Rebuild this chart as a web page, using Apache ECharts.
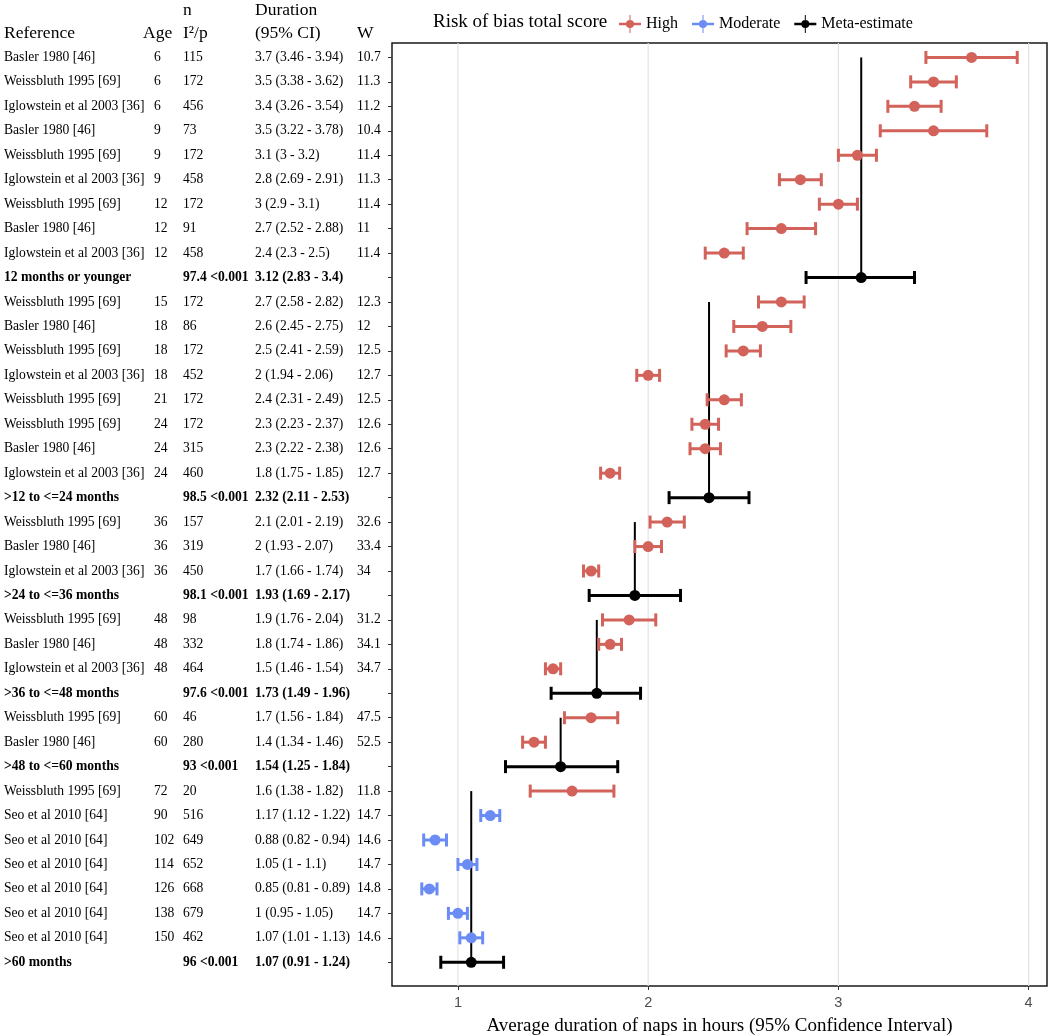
<!DOCTYPE html>
<html><head><meta charset="utf-8">
<script src="https://cdn.jsdelivr.net/npm/echarts@6/dist/echarts.min.js"></script>
<style>html,body{margin:0;padding:0;background:#fff}#c{width:1050px;height:1036px}</style>
</head><body><div id="c"></div><script>
// ---- data (top to bottom) ----
const references = [
 'Basler 1980 [46]','Weissbluth 1995 [69]','Iglowstein et al 2003 [36]',
 'Basler 1980 [46]','Weissbluth 1995 [69]','Iglowstein et al 2003 [36]',
 'Weissbluth 1995 [69]','Basler 1980 [46]','Iglowstein et al 2003 [36]',
 '12 months or younger',
 'Weissbluth 1995 [69]','Basler 1980 [46]','Weissbluth 1995 [69]','Iglowstein et al 2003 [36]',
 'Weissbluth 1995 [69]','Weissbluth 1995 [69]','Basler 1980 [46]','Iglowstein et al 2003 [36]',
 '>12 to <=24 months',
 'Weissbluth 1995 [69]','Basler 1980 [46]','Iglowstein et al 2003 [36]',
 '>24 to <=36 months',
 'Weissbluth 1995 [69]','Basler 1980 [46]','Iglowstein et al 2003 [36]',
 '>36 to <=48 months',
 'Weissbluth 1995 [69]','Basler 1980 [46]',
 '>48 to <=60 months',
 'Weissbluth 1995 [69]','Seo et al 2010 [64]','Seo et al 2010 [64]','Seo et al 2010 [64]',
 'Seo et al 2010 [64]','Seo et al 2010 [64]','Seo et al 2010 [64]',
 '>60 months'
];
const ages = ['6','6','6','9','9','9','12','12','12','',
 '15','18','18','18','21','24','24','24','',
 '36','36','36','','48','48','48','','60','60','',
 '72','90','102','114','126','138','150',''];
const nOrI2p = ['115','172','456','73','172','458','172','91','458','97.4 <0.001',
 '172','86','172','452','172','172','315','460','98.5 <0.001',
 '157','319','450','98.1 <0.001','98','332','464','97.6 <0.001',
 '46','280','93 <0.001',
 '20','516','649','652','668','679','462','96 <0.001'];
const estimates = [3.7,3.5,3.4,3.5,3.1,2.8,3,2.7,2.4,3.12,
 2.7,2.6,2.5,2,2.4,2.3,2.3,1.8,2.32,
 2.1,2,1.7,1.93,1.9,1.8,1.5,1.73,1.7,1.4,1.54,
 1.6,1.17,0.88,1.05,0.85,1,1.07,1.07];
const lower = [3.46,3.38,3.26,3.22,3,2.69,2.9,2.52,2.3,2.83,
 2.58,2.45,2.41,1.94,2.31,2.23,2.22,1.75,2.11,
 2.01,1.93,1.66,1.69,1.76,1.74,1.46,1.49,1.56,1.34,1.25,
 1.38,1.12,0.82,1,0.81,0.95,1.01,0.91];
const upper = [3.94,3.62,3.54,3.78,3.2,2.91,3.1,2.88,2.5,3.4,
 2.82,2.75,2.59,2.06,2.49,2.37,2.38,1.85,2.53,
 2.19,2.07,1.74,2.17,2.04,1.86,1.54,1.96,1.84,1.46,1.84,
 1.82,1.22,0.94,1.1,0.89,1.05,1.13,1.24];
const weights = ['10.7','11.3','11.2','10.4','11.4','11.3','11.4','11','11.4','',
 '12.3','12','12.5','12.7','12.5','12.6','12.6','12.7','',
 '32.6','33.4','34','','31.2','34.1','34.7','','47.5','52.5','',
 '11.8','14.7','14.6','14.7','14.8','14.7','14.6',''];
const riskOfBias = ['High','High','High','High','High','High','High','High','High','Meta-estimate',
 'High','High','High','High','High','High','High','High','Meta-estimate',
 'High','High','High','Meta-estimate','High','High','High','Meta-estimate',
 'High','High','Meta-estimate',
 'High','Moderate','Moderate','Moderate','Moderate','Moderate','Moderate','Meta-estimate'];
const xTicks = [1,2,3,4];

const COLORS = {'High':'#D2625A','Moderate':'#6B8CF5','Meta-estimate':'#000000'};
const SERIF = '"Liberation Serif","Times New Roman",serif';

// build series data
const seriesData = {'High':[],'Moderate':[],'Meta-estimate':[]};
let groupStart = 1;
references.forEach((r,i)=>{
  const row = i+1;
  const t = riskOfBias[i];
  if (t === 'Meta-estimate') {
    seriesData[t].push([row, estimates[i], lower[i], upper[i], groupStart]);
    groupStart = row + 1;
  } else {
    seriesData[t].push([row, estimates[i], lower[i], upper[i]]);
  }
});
const rowTicks = references.map((_,i)=>i+1);

function makeRender(color, isMeta){
  return function(params, api){
    const y = api.value(0);
    const c = api.coord([api.value(1), y]);
    const l = api.coord([api.value(2), y]);
    const h = api.coord([api.value(3), y]);
    const cap = 6.5;
    const lw = 3;
    const ch = [];
    if (isMeta) {
      const s = api.coord([api.value(1), api.value(4)]);
      ch.push({type:'line', shape:{x1:c[0],y1:s[1],x2:c[0],y2:c[1]}, style:{stroke:color,lineWidth:2}});
    }
    ch.push({type:'line', shape:{x1:l[0],y1:l[1],x2:h[0],y2:h[1]}, style:{stroke:color,lineWidth:lw}});
    ch.push({type:'line', shape:{x1:l[0],y1:l[1]-cap,x2:l[0],y2:l[1]+cap}, style:{stroke:color,lineWidth:lw}});
    ch.push({type:'line', shape:{x1:h[0],y1:h[1]-cap,x2:h[0],y2:h[1]+cap}, style:{stroke:color,lineWidth:lw}});
    ch.push({type:'circle', shape:{cx:c[0],cy:c[1],r:5.5}, style:{fill:color}});
    return {type:'group', children:ch};
  };
}

const legendIcon = 'path://M0,8.8H22V11.2H0Z M10.5,1H11.5V19H10.5Z M11,6A4,4 0 1,1 10.99,6Z';

const chart = echarts.init(document.getElementById('c'), null, {renderer:'canvas'});
const xmin = 0.6535, xmax = 4.0965;
chart.setOption({
  animation:false,
  backgroundColor:'#ffffff',
  title:{text:'Risk of bias total score', left:428, top:8,
    textStyle:{fontFamily:SERIF, fontSize:19, fontWeight:'normal', color:'#000'}},
  legend:{
    data:['High','Moderate','Meta-estimate'],
    left:614, top:10, icon:legendIcon, itemWidth:22, itemHeight:20, itemGap:14,
    textStyle:{fontFamily:SERIF, fontSize:16, color:'#000'},
    selectedMode:false
  },
  grid:{left:392, top:43, width:655, height:943, show:true, borderColor:'#1a1a1a', borderWidth:1.5,
    containLabel:false, outerBoundsMode:'none'},
  xAxis:{type:'value', min:xmin, max:xmax,
    axisLine:{show:false}, splitLine:{show:false},
    axisTick:{show:true, length:4, customValues:xTicks, lineStyle:{color:'#333'}},
    axisLabel:{customValues:xTicks, fontFamily:'"Liberation Sans",Arial,sans-serif', fontSize:14.5, color:'#4d4d4d', margin:9},
    name:'Average duration of naps in hours (95% Confidence Interval)', nameLocation:'middle', nameGap:31,
    nameTextStyle:{fontFamily:SERIF, fontSize:19, color:'#000'}
  },
  yAxis:{type:'value', inverse:true, min:0.41, max:38.97,
    axisLine:{show:false}, splitLine:{show:false},
    axisTick:{show:true, length:4, customValues:rowTicks, lineStyle:{color:'#333'}},
    axisLabel:{show:false}
  },
  series:[
    {name:'grid', type:'custom', z:1, silent:true, data:xTicks.map(v=>[v]),
      encode:{x:0},
      renderItem:function(p, api){
        const a = api.coord([api.value(0), 0.41]);
        const b = api.coord([api.value(0), 38.97]);
        return {type:'line', shape:{x1:a[0],y1:a[1],x2:b[0],y2:b[1]}, style:{stroke:'#e3e3e3', lineWidth:1.2}};
      }},
    {name:'High', type:'custom', z:3, itemStyle:{color:COLORS['High']}, data:seriesData['High'],
      encode:{x:[1,2,3], y:0}, renderItem:makeRender(COLORS['High'], false)},
    {name:'Moderate', type:'custom', z:3, itemStyle:{color:COLORS['Moderate']}, data:seriesData['Moderate'],
      encode:{x:[1,2,3], y:0}, renderItem:makeRender(COLORS['Moderate'], false)},
    {name:'Meta-estimate', type:'custom', z:2, itemStyle:{color:COLORS['Meta-estimate']}, data:seriesData['Meta-estimate'],
      encode:{x:[1,2,3], y:[0,4]}, renderItem:makeRender(COLORS['Meta-estimate'], true)}
  ]
});

// ---- left table as text ----
const BODY = 13.6, HEAD = 17.5;
const cols = {ref:4, age:154, n:183, dur:255, w:357};
const g = [];
function txt(s, x, y, size, bold){
  g.push({type:'text', x:x, y:y, silent:true,
    style:{text:s, font:(bold?'bold ':'')+size+'px '+SERIF, fill:'#000', textVerticalAlign:'middle', textAlign:'left'}});
}
txt('n', cols.n, 10, HEAD); txt('Duration', cols.dur, 10, HEAD);
txt('Reference', cols.ref, 33, HEAD); txt('Age', 143, 33, HEAD); txt('I\u00B2/p', cols.n, 33, HEAD);
txt('(95% CI)', cols.dur, 33, HEAD); txt('W', cols.w, 33, HEAD);
references.forEach((r,i)=>{
  const y = chart.convertToPixel({yAxisIndex:0}, i+1);
  const bold = riskOfBias[i] === 'Meta-estimate';
  txt(r, cols.ref, y, BODY, bold);
  if (ages[i]) txt(ages[i], cols.age, y, BODY, bold);
  txt(nOrI2p[i], cols.n, y, BODY, bold);
  txt(estimates[i]+' ('+lower[i]+' - '+upper[i]+')', cols.dur, y, BODY, bold);
  if (weights[i]) txt(weights[i], cols.w, y, BODY, bold);
});
chart.setOption({graphic:{elements:g}});
</script></body></html>
